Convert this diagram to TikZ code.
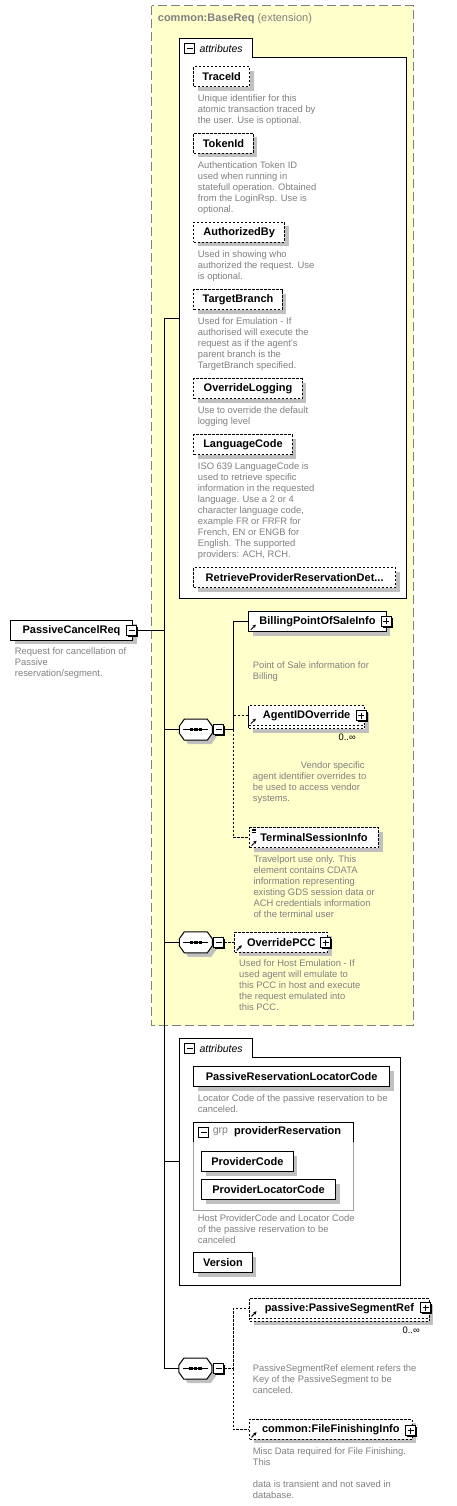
\documentclass[tikz,border=0pt]{standalone}
\usepackage{fontspec}
\setmainfont{Liberation Sans}
\usetikzlibrary{arrows.meta,positioning,shadows,calc}

\definecolor{extfill}{HTML}{FFFFCC}
\definecolor{extline}{HTML}{808080}
\definecolor{descgray}{HTML}{808080}
\definecolor{shadegray}{HTML}{C0C0C0}
\definecolor{grpgray}{HTML}{A0A0A0}

\newcommand{\namefont}{\fontsize{11}{13}\selectfont\bfseries}
\newcommand{\descfont}{\fontsize{9.4}{11}\selectfont}

\begin{document}
\begin{tikzpicture}[x=1pt, y=-1pt,
    box/.style={draw, fill=white, line width=1pt, anchor=west, minimum height=20pt, inner sep=0pt, font=\namefont},
    boxshadow/.style={drop shadow={shadow xshift=4pt, shadow yshift=-4pt, fill=shadegray, opacity=1}},
    elem/.style={box, boxshadow},
    opt/.style={dash pattern=on 2.5pt off 1.5pt},
    conn/.style={line width=1pt},
    refmark/.style={path picture={\draw[solid, line width=1pt, -{Stealth[length=3.2pt, width=3.4pt]}]
        ([shift={(2pt,2pt)}]path picture bounding box.south west) -- ++(5pt,5pt);}},
    desc/.style={font=\descfont, text=descgray, align=left, anchor=north west, inner sep=0pt, execute at begin node=\strut},
    occ/.style={font=\descfont, anchor=east, inner sep=0pt},
    tabminus/.style={draw, fill=white, line width=0.8pt, minimum size=10pt, inner sep=0pt,
        path picture={\draw[line width=0.8pt] ([xshift=2pt]path picture bounding box.west) -- ([xshift=-2pt]path picture bounding box.east);}},
    minus/.style={tabminus, drop shadow={shadow xshift=1.2pt, shadow yshift=-1.2pt, fill=black, opacity=1}},
    plus/.style={minus, path picture={
        \draw[line width=0.8pt] ([xshift=2pt]path picture bounding box.west) -- ([xshift=-2pt]path picture bounding box.east);
        \draw[line width=0.8pt] ([yshift=2pt]path picture bounding box.south) -- ([yshift=-2pt]path picture bounding box.north);}},
    seq/.style={minimum width=33pt, minimum height=21pt, inner sep=0pt},
    seqicon/.pic={
        \fill[shadegray] (4,4) ++(-16.5,-3.5) -- ++(5,-7) -- ++(23,0) -- ++(5,7) -- ++(0,7) -- ++(-5,7) -- ++(-23,0) -- ++(-5,-7) -- cycle;
        \draw[fill=white, line width=1pt] (-16.5,-3.5) -- ++(5,-7) -- ++(23,0) -- ++(5,7) -- ++(0,7) -- ++(-5,7) -- ++(-23,0) -- ++(-5,-7) -- cycle;
        \draw[line width=1pt] (-12.5,0) -- (12.5,0);
        \foreach \d in {-4.5,0,4.5}
          \fill (\d,0) +(-1.7,-1.7) rectangle +(1.7,1.7);},
    tabtext/.style={font=\fontsize{10.5}{12}\selectfont\itshape, anchor=west, inner sep=0pt}
]
    \useasboundingbox (0,0) rectangle (457,1506);

    % extension of common:BaseReq
    \draw[extline, fill=extfill, line width=1.2pt, dash pattern=on 9pt off 4pt] (151.7,5.7) rectangle (413.3,1025.7);
    \node[anchor=west, inner sep=0pt, font=\fontsize{11}{13}\selectfont, text=extline] (ext-title) at (157.7,19) {\textbf{common:BaseReq} (extension)};

    % inherited attributes
    \draw[fill=white, line width=1pt] (179.3,598.3) -- (179.3,38.3) -- (252.3,38.3) -- (252.3,57.7) -- (406.7,57.7) -- (406.7,598.3) -- cycle;
    \node[tabminus] (attrs1-m) at (189.7,48.8) {};
    \node[tabtext] (attrs1-t) at (199.3,48.3) {attributes};
    \coordinate (attrs1-in) at (179.3,318);

    \node[elem, opt, minimum width=55.7pt] (traceid) at (193.3,76.7) {TraceId};
    \node[desc] (traceid-d) at (197.7,94.6) {Unique identifier for this\\atomic transaction traced by\\the user. Use is optional.};
    \node[elem, opt, minimum width=59.4pt] (tokenid) at (193.3,143.3) {TokenId};
    \node[desc] (tokenid-d) at (197.7,161.3) {Authentication Token ID\\used when running in\\statefull operation. Obtained\\from the LoginRsp. Use is\\optional.};
    \node[elem, opt, minimum width=90.7pt] (authby) at (193.3,232.3) {AuthorizedBy};
    \node[desc] (authby-d) at (197.7,250.3) {Used in showing who\\authorized the request. Use\\is optional.};
    \node[elem, opt, minimum width=88.4pt] (tbranch) at (193.3,299.5) {TargetBranch};
    \node[desc] (tbranch-d) at (197.7,317.3) {Used for Emulation - If\\authorised will execute the\\request as if the agent's\\parent branch is the\\TargetBranch specified.};
    \node[elem, opt, minimum width=108.4pt] (ovlog) at (193.3,388.7) {OverrideLogging};
    \node[desc] (ovlog-d) at (197.7,406.3) {Use to override the default\\logging level};
    \node[elem, opt, minimum width=98.4pt] (langcode) at (193.3,444.7) {LanguageCode};
    \node[desc] (langcode-d) at (197.7,462.3) {ISO 639 LanguageCode is\\used to retrieve specific\\information in the requested\\language.  Use a 2 or 4\\character language code,\\example FR or FRFR for\\French, EN or ENGB for\\English.  The supported\\providers: ACH, RCH.};
    \node[elem, opt, minimum width=201.7pt] (retrieve) at (193.3,577.7) {RetrieveProviderReservationDet...};

    % root element
    \node[elem, minimum width=122pt] (root) at (10,630.3) {PassiveCancelReq};
    \node[minus] (root-m) at (131.5,630.3) {};
    \node[desc] (root-d) at (14.7,647.6) {Request for cancellation of\\Passive\\reservation/segment.};

    % first sequence (inherited)
    \node[seq] (seq1) at (195.8,729.7) {};
    \pic at (seq1) {seqicon};
    \node[minus] (seq1-m) at (218.8,729.7) {};
    \coordinate (fork1) at (233,729.7);

    \node[elem, refmark, minimum width=137.4pt] (billing) at (248.3,621.7) {BillingPointOfSaleInfo};
    \node[plus] (billing-p) at (386.3,621.3) {};
    \node[desc] (billing-d) at (252.7,661.3) {Point of Sale information for\\Billing};

    \node[elem, opt, minimum width=115.7pt] (agent-back) at (248.3,718.7) {};
    \node[box, opt, refmark, minimum width=115.7pt] (agent) at (248.3,715.7) {AgentIDOverride};
    \node[plus] (agent-p) at (361.3,715.8) {};
    \node[occ] (agent-o) at (356,737) {0..∞};
    \node[desc] (agent-d) at (252.7,761.3) {\hspace*{48pt}Vendor specific\\agent identifier overrides to\\be used to access vendor\\systems.};

    \node[elem, opt, refmark, minimum width=129pt] (terminal) at (249,837.7) {TerminalSessionInfo};
    \foreach \dy in {1.8,3.4,5} \draw[line width=0.6pt] ([shift={(2.5pt,-\dy pt)}]terminal.north west) -- ++(4pt,0pt);
    \node[desc] (terminal-d) at (253.3,855.6) {Travelport use only. This\\element contains CDATA\\information representing\\existing GDS session data or\\ACH credentials information\\of the terminal user};

    % second sequence (inherited)
    \node[seq] (seq2) at (195.8,942.3) {};
    \pic at (seq2) {seqicon};
    \node[minus] (seq2-m) at (218.8,942.3) {};
    \node[elem, opt, refmark, minimum width=93pt] (pcc) at (234.3,942.3) {OverridePCC};
    \node[plus] (pcc-p) at (325.5,942.5) {};
    \node[desc] (pcc-d) at (239,959.9) {Used for Host Emulation - If\\used agent will emulate to\\this PCC in host and execute\\the request emulated into\\this PCC.};

    % own attributes
    \draw[fill=white, line width=1pt] (179.3,1285) -- (179.3,1038.3) -- (252.3,1038.3) -- (252.3,1057.7) -- (400.7,1057.7) -- (400.7,1285) -- cycle;
    \node[tabminus] (attrs2-m) at (189.7,1048.8) {};
    \node[tabtext] (attrs2-t) at (199.3,1048.3) {attributes};
    \coordinate (attrs2-in) at (179.3,1161.7);

    \node[elem, minimum width=195.7pt] (locator) at (193.3,1076.7) {PassiveReservationLocatorCode};
    \node[desc] (locator-d) at (197.7,1094.9) {Locator Code of the passive reservation to be\\canceled.};

    % attribute group providerReservation
    \draw[grpgray, line width=1pt] (193.3,1141.7) -- (193.3,1210) -- (353.3,1210) -- (353.3,1141.7);
    \draw[line width=1pt] (193.3,1141.7) -- (193.3,1122.7) -- (353.3,1122.7) -- (353.3,1141.7);
    \node[tabminus] (grp-m) at (203.7,1132.2) {};
    \node[anchor=west, inner sep=0pt, font=\fontsize{10.5}{12}\selectfont, text=descgray] (grp-k) at (212.7,1132) {grp};
    \node[anchor=west, inner sep=0pt, font=\namefont] (grp-n) at (234,1132) {providerReservation};
    \node[elem, minimum width=91.7pt] (provcode) at (201,1161.7) {ProviderCode};
    \node[elem, minimum width=134pt] (provloc) at (201,1189.7) {ProviderLocatorCode};
    \node[desc] (grp-d) at (197.7,1214.6) {Host ProviderCode and Locator Code\\of the passive reservation to be\\canceled};

    \node[elem, minimum width=58.4pt] (version) at (193.3,1262.7) {Version};

    % own sequence
    \node[seq] (seq3) at (195.3,1368.7) {};
    \pic at (seq3) {seqicon};
    \node[minus] (seq3-m) at (218.8,1368.7) {};
    \coordinate (fork3) at (233,1368.7);

    \node[elem, opt, minimum width=179.7pt] (segref-back) at (249,1311.3) {};
    \node[box, opt, refmark, minimum width=179.7pt] (segref) at (249,1308.3) {passive:PassiveSegmentRef};
    \node[plus] (segref-p) at (425.8,1307.5) {};
    \node[occ] (segref-o) at (420,1330.7) {0..∞};
    \node[desc] (segref-d) at (252.7,1364.9) {PassiveSegmentRef element refers the\\Key of the PassiveSegment to be\\canceled.};

    \node[elem, opt, refmark, minimum width=162.7pt] (fileinfo) at (249,1429.3) {common:FileFinishingInfo};
    \node[plus] (fileinfo-p) at (410.8,1430.5) {};
    \node[desc] (fileinfo-d) at (252.7,1447.9) {Misc Data required for File Finishing.\\This\\[11pt]data is transient and not saved in\\database.};

    % connectors
    \coordinate (trunk-top) at (164,318);
    \draw[conn] (attrs1-in) -- (trunk-top) |- (seq3.west);
    \draw[conn] (root-m.east) -- (root-m.east -| trunk-top);
    \draw[conn] (seq1.west) -- (seq1.west -| trunk-top);
    \draw[conn] (seq2.west) -- (seq2.west -| trunk-top);
    \draw[conn] (attrs2-in) -- (attrs2-in -| trunk-top);

    \draw[conn] (seq1-m.east) -- (fork1) |- (billing.west);
    \draw[conn, opt] (fork1) |- (terminal.west);
    \draw[conn, opt] (agent.west) -- (agent.west -| fork1);

    \draw[conn, opt] (seq2-m.east) -- (pcc.west);

    \draw[conn, opt] (seq3-m.east) -- (fork3) |- (segref.west);
    \draw[conn, opt] (fork3) |- (fileinfo.west);
\end{tikzpicture}
\end{document}
